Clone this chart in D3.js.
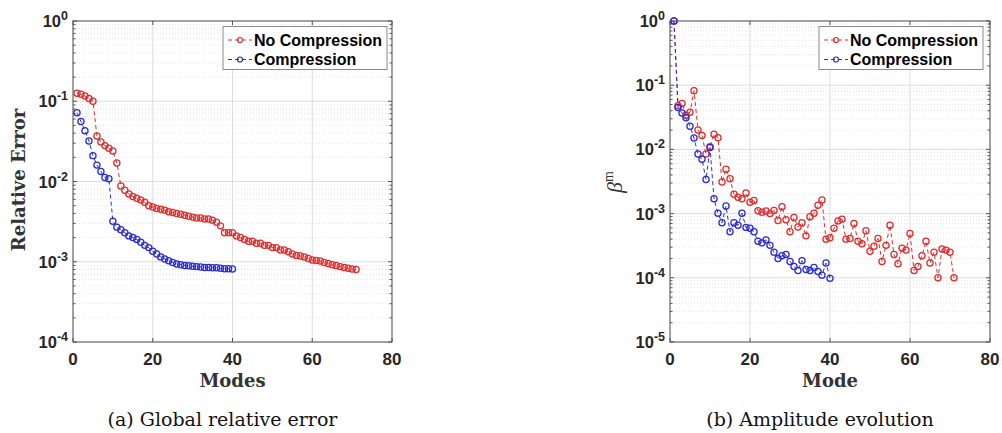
<!DOCTYPE html>
<html>
<head>
<meta charset="utf-8">
<script src="https://cdn.jsdelivr.net/npm/d3@7"></script>
<style>
  body { margin: 0; background: #fff; }
  svg { display: block; }
</style>
</head>
<body>
<svg id="fig" width="1002" height="433"></svg>
<script>
// ---- data ----
const xTicks = [0, 20, 40, 60, 80];
const errorExponents = [0, -1, -2, -3, -4];
const betaExponents = [0, -1, -2, -3, -4, -5];
const seriesNames = ["No Compression", "Compression"];

// global relative error vs. number of modes
const errNoCompression = [
  0.126, 0.122, 0.116, 0.108, 0.100, 0.037, 0.031, 0.028, 0.026, 0.024,
  0.017, 0.0088, 0.0078, 0.0070, 0.0065, 0.0062, 0.0059, 0.0055, 0.0050, 0.0048,
  0.0046, 0.0045, 0.0044, 0.0042, 0.0041, 0.0040, 0.0039, 0.0038, 0.0037, 0.0036,
  0.0035, 0.0035, 0.0034, 0.0034, 0.0033, 0.0031, 0.0028, 0.0023, 0.0023, 0.0023,
  0.0021, 0.0020, 0.0019, 0.0018, 0.0018, 0.0017, 0.0017, 0.0016, 0.0016, 0.0015,
  0.0015, 0.0014, 0.0014, 0.00133, 0.00125, 0.00120, 0.00118, 0.00115, 0.00110, 0.00105,
  0.00104, 0.00102, 0.00098, 0.00095, 0.00092, 0.00090, 0.00087, 0.00085, 0.00083, 0.00081,
  0.00080
];
const errCompression = [
  0.072, 0.056, 0.043, 0.032, 0.021, 0.016, 0.0133, 0.0112, 0.0108, 0.0032,
  0.0027, 0.0025, 0.0023, 0.0021, 0.0020, 0.0019, 0.00175, 0.0016, 0.0015, 0.00135,
  0.00125, 0.00115, 0.00108, 0.00103, 0.00098, 0.00094, 0.00092, 0.00090, 0.00089, 0.00088,
  0.00087, 0.00086, 0.00085, 0.00085, 0.00084, 0.00084, 0.00083, 0.00082, 0.00082, 0.00081
];

// mode amplitudes
const betaNoCompression = [
  1.0, 0.048, 0.052, 0.034, 0.038, 0.082, 0.020, 0.0165, 0.0085, 0.0110,
  0.0172, 0.0152, 0.0031, 0.0049, 0.0035, 0.0020, 0.0018, 0.0017, 0.0021, 0.0015,
  0.0016, 0.00111, 0.00105, 0.00110, 0.00100, 0.00112, 0.00078, 0.00128, 0.00080, 0.00052,
  0.00087, 0.00062, 0.00072, 0.00045, 0.00089, 0.00101, 0.00135, 0.00163, 0.00040, 0.00042,
  0.00059, 0.00077, 0.00082, 0.00040, 0.00041, 0.00070, 0.00037, 0.00034, 0.00054, 0.00026,
  0.00031, 0.00041, 0.00018, 0.00032, 0.00066, 0.00023, 0.000165, 0.00029, 0.00027, 0.00049,
  0.00013, 0.00015, 0.00022, 0.00037, 0.00017, 0.00025, 0.00010, 0.00028, 0.00027, 0.00025,
  0.00010
];
const betaCompression = [
  1.0, 0.045, 0.037, 0.031, 0.023, 0.015, 0.0085, 0.0070, 0.0034, 0.0107,
  0.0017, 0.00101, 0.00072, 0.00131, 0.00052, 0.00072, 0.00066, 0.00101, 0.00061, 0.00059,
  0.00052, 0.00037, 0.00035, 0.00039, 0.00032, 0.00025, 0.00020, 0.00022, 0.00023, 0.00018,
  0.00015, 0.00013, 0.000185, 0.000135, 0.00013, 0.000145, 0.000125, 0.00011, 0.00017, 0.000098
];

// ---- styling ----
const colors = ["#e42a2a", "#2b2bd6"];
const tickFont = "'Liberation Sans', Arial, sans-serif";
const labelFont = "'DejaVu Serif', serif";
const captionFont = "'DejaVu Serif', serif";

const svg = d3.select("#fig");

const panels = [
  {
    left: 73, right: 392, top: 21, bottom: 342,
    exps: errorExponents,
    series: [errNoCompression, errCompression],
    xLabel: "Modes",
    caption: "(a) Global relative error",
    legendX: 223
  },
  {
    left: 670, right: 990, top: 21, bottom: 342,
    exps: betaExponents,
    series: [betaNoCompression, betaCompression],
    xLabel: "Mode",
    caption: "(b) Amplitude evolution",
    legendX: 819
  }
];

panels.forEach((p) => {
  const g = svg.append("g");
  const x = d3.scaleLinear().domain([xTicks[0], xTicks[xTicks.length - 1]]).range([p.left, p.right]);
  const yMax = Math.pow(10, d3.max(p.exps));
  const yMin = Math.pow(10, d3.min(p.exps));
  const y = d3.scaleLog().domain([yMin, yMax]).range([p.bottom, p.top]);

  // minor values on the log axis
  const minor = [];
  for (let e = d3.min(p.exps); e < d3.max(p.exps); e++) {
    for (let k = 2; k <= 9; k++) minor.push(k * Math.pow(10, e));
  }
  const major = p.exps.map(e => Math.pow(10, e));

  // minor grid (dotted)
  g.append("g").selectAll("line").data(minor).join("line")
    .attr("x1", p.left).attr("x2", p.right)
    .attr("y1", d => y(d)).attr("y2", d => y(d))
    .attr("stroke", "#e4e4e4").attr("stroke-width", 1)
    .attr("stroke-dasharray", "1,2");

  // major grid
  g.append("g").selectAll("line").data(major).join("line")
    .attr("x1", p.left).attr("x2", p.right)
    .attr("y1", d => y(d)).attr("y2", d => y(d))
    .attr("stroke", "#dddddd").attr("stroke-width", 1);
  g.append("g").selectAll("line").data(xTicks).join("line")
    .attr("x1", d => x(d)).attr("x2", d => x(d))
    .attr("y1", p.top).attr("y2", p.bottom)
    .attr("stroke", "#dddddd").attr("stroke-width", 1);

  // inward tick marks on all four sides
  const tk = g.append("g").attr("stroke", "#555").attr("stroke-width", 1);
  xTicks.forEach(v => {
    tk.append("line").attr("x1", x(v)).attr("x2", x(v)).attr("y1", p.bottom).attr("y2", p.bottom - 4);
    tk.append("line").attr("x1", x(v)).attr("x2", x(v)).attr("y1", p.top).attr("y2", p.top + 4);
  });
  major.forEach(v => {
    tk.append("line").attr("x1", p.left).attr("x2", p.left + 4).attr("y1", y(v)).attr("y2", y(v));
    tk.append("line").attr("x1", p.right).attr("x2", p.right - 4).attr("y1", y(v)).attr("y2", y(v));
  });
  minor.forEach(v => {
    tk.append("line").attr("x1", p.left).attr("x2", p.left + 2.5).attr("y1", y(v)).attr("y2", y(v));
    tk.append("line").attr("x1", p.right).attr("x2", p.right - 2.5).attr("y1", y(v)).attr("y2", y(v));
  });

  // axes box
  g.append("rect")
    .attr("x", p.left).attr("y", p.top)
    .attr("width", p.right - p.left).attr("height", p.bottom - p.top)
    .attr("fill", "none").attr("stroke", "#555").attr("stroke-width", 1);

  // x tick labels
  g.append("g").selectAll("text").data(xTicks).join("text")
    .attr("x", d => x(d)).attr("y", p.bottom + 23)
    .attr("text-anchor", "middle")
    .attr("font-family", tickFont).attr("font-weight", "bold").attr("font-size", 17)
    .attr("fill", "#262626")
    .text(d => d);

  // y tick labels: 10^e
  p.exps.forEach(e => {
    const t = g.append("text")
      .attr("x", p.left - 5).attr("y", y(Math.pow(10, e)) + 6)
      .attr("text-anchor", "end")
      .attr("font-family", tickFont).attr("font-weight", "bold").attr("font-size", 16.5)
      .attr("fill", "#262626");
    t.append("tspan").text("10");
    t.append("tspan").attr("dy", -7).attr("font-size", 12.5).text(String(e));
  });

  // series: dashed line with open circles
  const line = d3.line().x((d, i) => x(i + 1)).y(d => y(d));
  p.series.forEach((vals, si) => {
    const sg = g.append("g");
    sg.append("path").datum(vals)
      .attr("d", line)
      .attr("fill", "none").attr("stroke", colors[si]).attr("stroke-width", 1)
      .attr("stroke-dasharray", "4,3");
    sg.selectAll("circle").data(vals).join("circle")
      .attr("cx", (d, i) => x(i + 1)).attr("cy", d => y(d))
      .attr("r", 3.1)
      .attr("fill", "none").attr("stroke", colors[si]).attr("stroke-width", 1.25);
  });

  // legend
  const lg = g.append("g").attr("transform", `translate(${p.legendX},26.5)`);
  lg.append("rect").attr("width", 164).attr("height", 43)
    .attr("fill", "#fff").attr("stroke", "#8a8a8a").attr("stroke-width", 1);
  seriesNames.forEach((name, si) => {
    const cy = 13.5 + si * 19.5;
    lg.append("line").attr("x1", 5).attr("x2", 29).attr("y1", cy).attr("y2", cy)
      .attr("stroke", colors[si]).attr("stroke-width", 1).attr("stroke-dasharray", "4,3");
    lg.append("circle").attr("cx", 17).attr("cy", cy).attr("r", 2.5)
      .attr("fill", "none").attr("stroke", colors[si]).attr("stroke-width", 1.2);
    lg.append("text").attr("x", 31).attr("y", cy + 5.8)
      .attr("font-family", tickFont).attr("font-weight", "bold").attr("font-size", 16)
      .attr("fill", "#000").text(name);
  });

  // x axis label
  g.append("text")
    .attr("x", (p.left + p.right) / 2).attr("y", p.bottom + 45)
    .attr("text-anchor", "middle")
    .attr("font-family", labelFont).attr("font-weight", "bold").attr("font-size", 18)
    .attr("fill", "#333")
    .text(p.xLabel);

  // caption
  g.append("text")
    .attr("x", (p.left + p.right) / 2 - 10).attr("y", 426)
    .attr("text-anchor", "middle")
    .attr("font-family", captionFont).attr("font-size", 19)
    .attr("fill", "#111")
    .text(p.caption);
});

// y axis labels
svg.append("text")
  .attr("transform", "translate(25,180) rotate(-90)")
  .attr("text-anchor", "middle")
  .attr("font-family", labelFont).attr("font-weight", "bold").attr("font-size", 18)
  .attr("fill", "#333")
  .text("Relative Error");

const beta = svg.append("text")
  .attr("transform", "translate(622,182) rotate(-90)")
  .attr("text-anchor", "middle")
  .attr("font-family", "'Liberation Serif', serif").attr("font-size", 22)
  .attr("fill", "#333");
beta.append("tspan").attr("font-style", "italic").text("β");
beta.append("tspan").attr("dy", -9).attr("font-size", 14).text("m");
</script>
</body>
</html>
